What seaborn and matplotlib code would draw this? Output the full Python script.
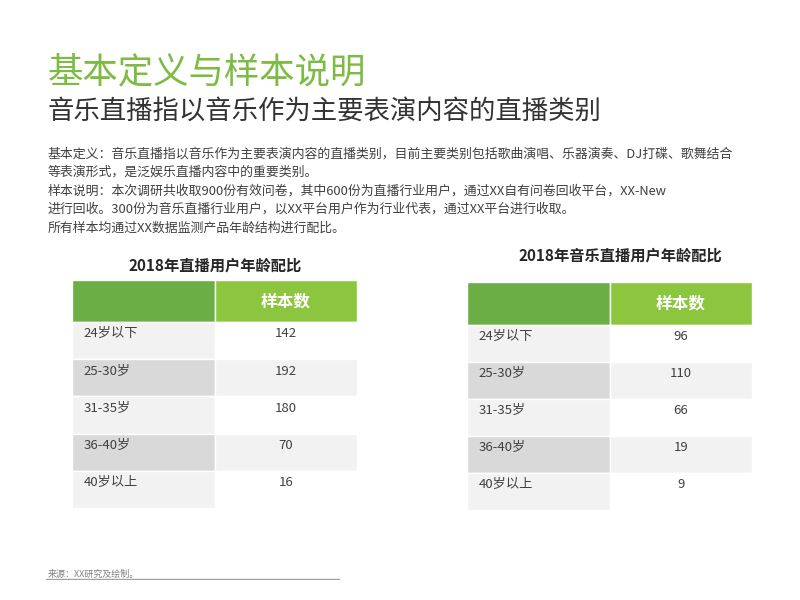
import matplotlib.pyplot as plt
import seaborn as sns

sns.set_theme(style="white", font="Noto Sans CJK SC")

age_groups = ["24岁以下", "25-30岁", "31-35岁", "36-40岁", "40岁以上"]
live_counts = [142, 192, 180, 70, 16]
music_counts = [96, 110, 66, 19, 9]
header_label = "样本数"
left_title = "2018年直播用户年龄配比"
right_title = "2018年音乐直播用户年龄配比"

W, H = 800, 600
fig = plt.figure(figsize=(8, 6), dpi=100)
fig.patch.set_facecolor("white")


def px_axes(x0, y0, x1, y1):
    return fig.add_axes([x0 / W, 1 - y1 / H, (x1 - x0) / W, (y1 - y0) / H])


def draw_table(box, header_h, title, counts, title_x, title_y):
    x0, y0, x1, y1 = box
    ax = px_axes(x0, y0, x1, y1)
    n = len(age_groups)
    total = (y1 - y0)
    row_h = (total - header_h) / n
    # header cells
    ax.barh([header_h / 2], [0.5], height=header_h, left=0, color="#6aae45")
    ax.barh([header_h / 2], [0.5], height=header_h, left=0.5, color="#8cc63f")
    ax.text(0.75, header_h / 2, header_label, ha="center", va="center",
            fontsize=12, color="white", fontweight="bold")
    ys = [header_h + row_h * (i + 0.5) for i in range(n)]
    left_cols = ["#f2f2f2" if i % 2 == 0 else "#d9d9d9" for i in range(n)]
    right_cols = ["#ffffff" if i % 2 == 0 else "#f2f2f2" for i in range(n)]
    ax.barh(ys, [0.5] * n, height=row_h, left=0, color=left_cols)
    ax.barh(ys, [0.5] * n, height=row_h, left=0.5, color=right_cols)
    for y, lab, v in zip(ys, age_groups, counts):
        ax.text(0.04, y - row_h * 0.18, lab, ha="left", va="center", fontsize=9.5, color="#404040")
        ax.text(0.75, y - row_h * 0.18, str(v), ha="center", va="center", fontsize=9.5, color="#404040")
    ax.set_xlim(0, 1)
    ax.set_ylim(total, 0)
    ax.axis("off")
    fig.text(title_x / W, 1 - title_y / H, title, ha="center", va="center",
             fontsize=11, fontweight="bold", color="#262626")


draw_table((72, 280, 357, 508), 42, left_title, live_counts, 215, 266)
draw_table((467, 282, 752, 510), 43, right_title, music_counts, 620, 256)

fig.text(48 / W, 1 - 72 / H, "基本定义与样本说明", fontsize=25.5, color="#7dbb42", va="center")
fig.text(48 / W, 1 - 111 / H, "音乐直播指以音乐作为主要表演内容的直播类别", fontsize=19,
         color="#333333", va="center")
body = [
    "基本定义：音乐直播指以音乐作为主要表演内容的直播类别，目前主要类别包括歌曲演唱、乐器演奏、DJ打碟、歌舞结合",
    "等表演形式，是泛娱乐直播内容中的重要类别。",
    "样本说明：本次调研共收取900份有效问卷，其中600份为直播行业用户，通过XX自有问卷回收平台，XX-New",
    "进行回收。300份为音乐直播行业用户，以XX平台用户作为行业代表，通过XX平台进行收取。",
    "所有样本均通过XX数据监测产品年龄结构进行配比。",
]
for i, line in enumerate(body):
    fig.text(48 / W, 1 - (154 + i * 18.5) / H, line, fontsize=9.3, color="#404040", va="center")

fig.text(48 / W, 1 - 574 / H, "来源：XX研究及绘制。", fontsize=6.5, color="#808080", va="center")
line_ax = px_axes(46, 578, 340, 580)
line_ax.axhline(0.5, color="#a0a0a0", lw=1)
line_ax.axis("off")

fig.savefig("out.png", dpi=100, facecolor="white")
